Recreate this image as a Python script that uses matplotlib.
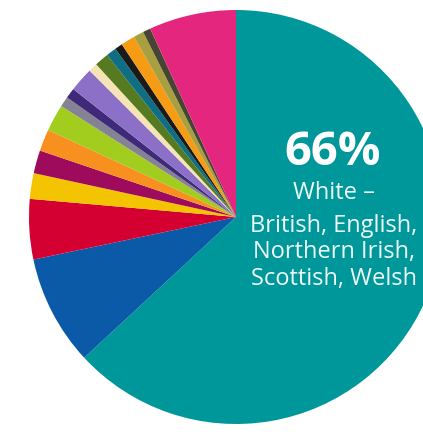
import matplotlib
matplotlib.use("Agg")
import matplotlib.pyplot as plt

# Data (share of pie, percent), clockwise from 12 o'clock
categories = [
    "White - British, English, Northern Irish, Scottish, Welsh",
    "Group 2", "Group 3", "Group 4", "Group 5", "Group 6", "Group 7",
    "Group 8", "Group 9", "Group 10", "Group 11", "Group 12", "Group 13",
    "Group 14", "Group 15", "Group 16", "Group 17", "Group 18",
]
values = [63.1, 8.6, 4.7, 2.0, 1.8, 1.7, 2.1, 0.8, 0.8, 1.9, 0.7, 1.1,
          0.8, 0.6, 1.1, 0.8, 0.6, 6.8]
colors = ["#00979b", "#0b5aa8", "#d50032", "#f5c400", "#9e0b5c", "#f7901e",
          "#a3cd1e", "#858296", "#3e2a78", "#8c70c8", "#f6e4b5", "#557a1f",
          "#0f6e84", "#1a1a1a", "#f59b14", "#a8a040", "#464432", "#e5267f"]
big_label = "66%"
label_lines = ["White \u2013", "British, English,", "Northern Irish,", "Scottish, Welsh"]

W, H = 423, 432
fig = plt.figure(figsize=(W / 100, H / 100), dpi=100)
ax = fig.add_axes([0, 0, 1, 1])
ax.pie(values, colors=colors, startangle=90, counterclock=False,
       center=(236, H - 217), radius=207,
       wedgeprops=dict(linewidth=0))
ax.set_xlim(0, W)
ax.set_ylim(0, H)
ax.set_aspect("equal")
ax.axis("off")

fam = ["Open Sans", "DejaVu Sans"]
ax.text(333, H - 165, big_label, ha="center", va="baseline", color="white",
        fontsize=34, fontweight="bold", family=fam)
baselines = [199, 232, 258, 285]
for line, b in zip(label_lines, baselines):
    ax.text(334, H - b, line, ha="center", va="baseline", color="#eefafa",
            fontsize=17, family=fam)

fig.savefig("out.png", dpi=100, facecolor="white")
